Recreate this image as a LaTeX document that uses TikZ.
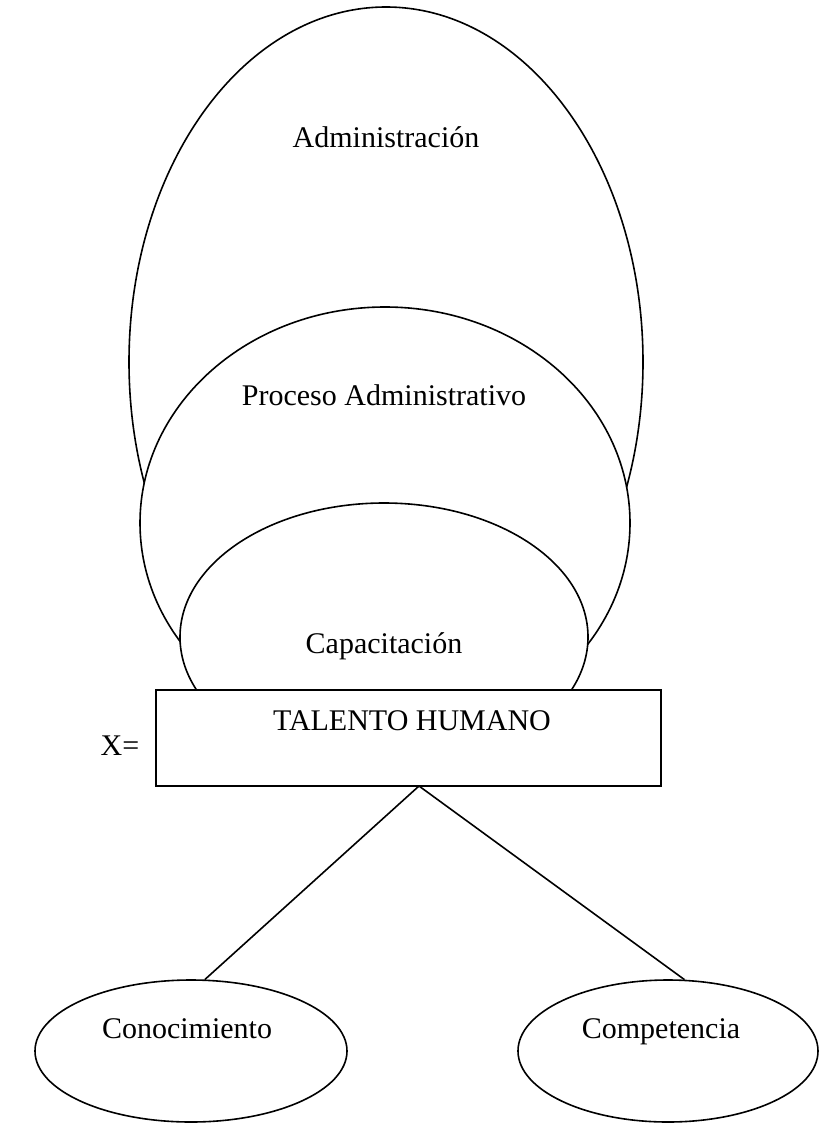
\documentclass[tikz,border=0pt]{standalone}
\usepackage{fontspec}
\setmainfont{Liberation Serif}
\usetikzlibrary{shapes.geometric}

\tikzset{
  oval/.style={ellipse, draw=black, fill=white, line width=0.8pt, inner sep=0pt},
  box/.style={rectangle, draw=black, fill=white, line width=0.8pt, inner sep=0pt},
  caption/.style={inner sep=0pt, anchor=base, font=\fontsize{15}{18}\selectfont},
  link/.style={draw=black, line width=0.8pt}
}

\begin{document}
\begin{tikzpicture}[x=0.5pt, y=-0.5pt]
  % page frame
  \path[use as bounding box, fill=white] (0,0) rectangle (819,1124);

  % nested ovals, drawn from the outermost inwards
  \node[oval, minimum width=257pt, minimum height=355pt] (adm) at (386,362) {};
  \node[oval, minimum width=245pt, minimum height=216pt] (proc) at (385,523) {};
  \node[oval, minimum width=204pt, minimum height=134pt] (cap) at (384,637) {};

  % central box
  \node[box, minimum width=252.5pt, minimum height=48pt] (th) at (408.5,738) {};

  % labels of the nested shapes (placed by baseline)
  \node[caption] (admtxt) at (386,147) {Administración};
  \node[caption] (proctxt) at (384,405) {Proceso Administrativo};
  \node[caption] (captxt) at (384,653) {Capacitación};
  \node[caption] (thtxt) at (412,730) {TALENTO HUMANO};
  \node[caption] (xeq) at (120,755) {X=};

  % lower ovals
  \node[oval, minimum width=156pt, minimum height=71pt] (con) at (191,1051) {};
  \node[oval, minimum width=150pt, minimum height=71pt] (com) at (668,1051) {};
  \node[caption] (contxt) at (187,1038) {Conocimiento};
  \node[caption] (comtxt) at (661,1038) {Competencia};

  % branches from the box
  \coordinate (apex) at (419,786);
  \draw[link] (apex) -- (con.79);
  \draw[link] (apex) -- (com.77);
\end{tikzpicture}
\end{document}
